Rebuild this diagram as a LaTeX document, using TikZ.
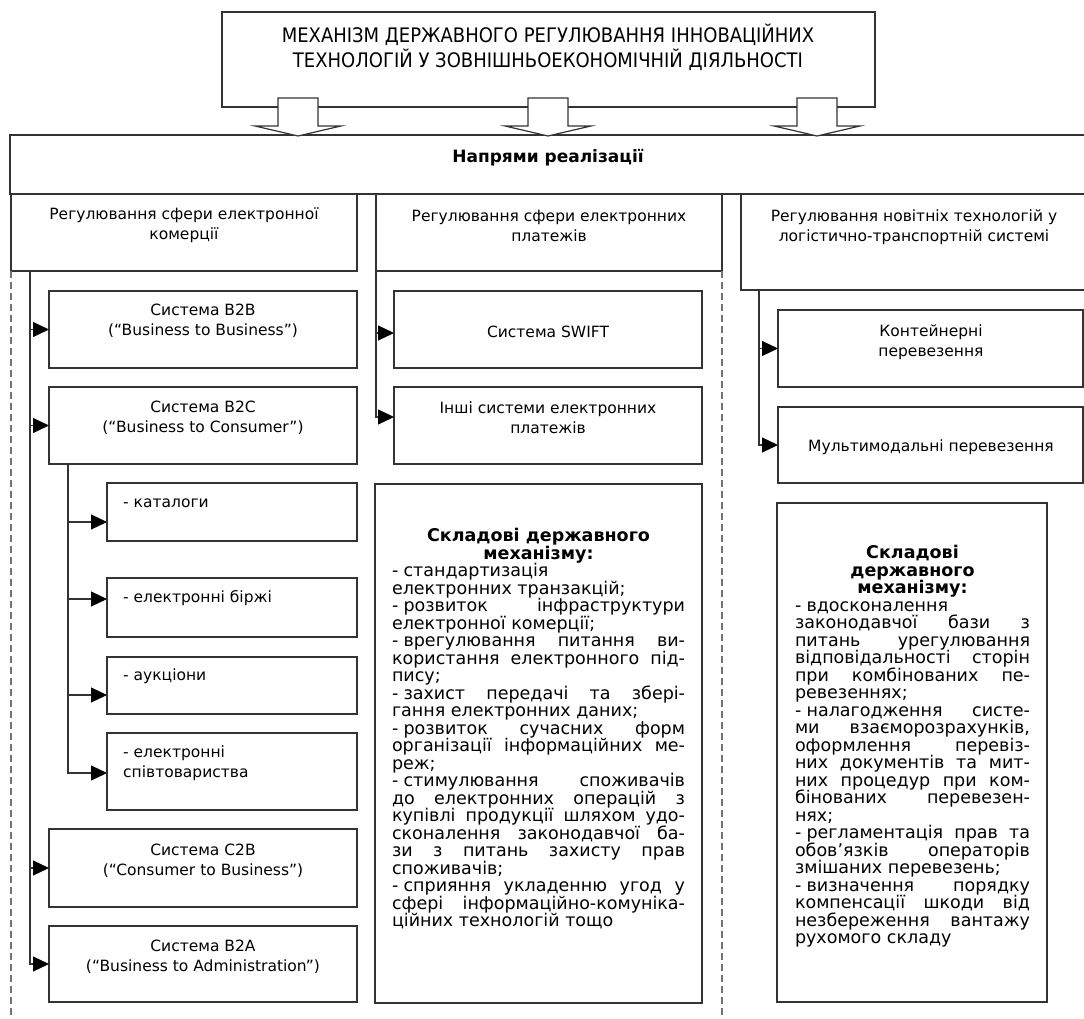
\documentclass[tikz,border=0pt]{standalone}
\usepackage{fontspec}
\setmainfont{DejaVu Sans}
\newfontfamily\titlefont[FakeStretch=0.9]{DejaVu Sans}
\usetikzlibrary{arrows.meta,calc}
\definecolor{linec}{gray}{0.2}
\definecolor{dashc}{gray}{0.45}
\newcommand\dd{-\kern0.3em\relax}
\newcommand\mj[1]{\makebox[293pt][s]{#1}}
\newcommand\ml[1]{\makebox[293pt][l]{#1}}
\newcommand\mc[1]{\makebox[293pt][c]{\bfseries #1}}
\newcommand\rj[1]{\makebox[235pt][s]{#1}}
\newcommand\rl[1]{\makebox[235pt][l]{#1}}
\newcommand\rc[1]{\makebox[235pt][c]{\bfseries #1}}
\newcommand\blockarr[2]{\draw[barrow] (#2-20,98) -- (#2+20,98) -- (#2+20,126) -- (#2+43,126) -- (#2,136) -- (#2-43,126) -- (#2-20,126) -- cycle;}
\begin{document}
\begin{tikzpicture}[x=1pt,y=-1pt,
  box/.style={draw=linec,line width=1.2pt,fill=white,inner sep=0pt,outer sep=0pt,anchor=north west},
  lbl/.style={font=\fontsize{15.5}{20}\selectfont,align=center,inner sep=0pt,text=black},
  sublbl/.style={font=\fontsize{15.5}{20}\selectfont,align=left,inner sep=0pt,anchor=west,text=black},
  conn/.style={draw=linec,line width=1.2pt,-{Triangle[length=16pt,width=15pt,color=black,fill=black]}},
  dline/.style={draw=dashc,line width=1.2pt,dash pattern=on 7pt off 4pt},
  barrow/.style={draw=linec,line width=1.2pt,fill=white,line join=miter},
  body/.style={font=\fontsize{17.5}{17.5}\selectfont,align=center,inner sep=0pt,anchor=north,text=black}]
\path[use as bounding box] (0,0) rectangle (1084,1019);
\clip (0,0) rectangle (1084,1019);
\fill[white] (0,0) rectangle (1084,1019);

% title
\node[box,minimum width=653pt,minimum height=95pt] (title) at (222,12) {};
\node[lbl,font=\titlefont\fontsize{20}{25}\selectfont] (titletxt) at (548,47) {МЕХАНІЗМ ДЕРЖАВНОГО РЕГУЛЮВАННЯ ІННОВАЦІЙНИХ\\ТЕХНОЛОГІЙ У ЗОВНІШНЬОЕКОНОМІЧНІЙ ДІЯЛЬНОСТІ};

% directions box
\node[box,minimum width=1080pt,minimum height=59pt] (napr) at (10,135) {};
\node[lbl,font=\bfseries\fontsize{17}{20}\selectfont] (naprtxt) at (548,158) {Напрями реалізації};

% block arrows
\blockarr{a1}{298}
\blockarr{a2}{548}
\blockarr{a3}{817}

% column heads
\node[box,minimum width=346pt,minimum height=77pt] (lcol) at (11,194) {};
\node[box,minimum width=346pt,minimum height=77pt] (mcol) at (376,194) {};
\node[box,minimum width=350pt,minimum height=96pt] (rcol) at (741,194) {};
\node[lbl] (lcoltxt) at (184,225.5) {Регулювання сфери електронної\\комерції};
\node[lbl] (mcoltxt) at (549,225.5) {Регулювання сфери електронних\\платежів};
\node[lbl] (rcoltxt) at (914,227) {Регулювання новітніх технологій у\\логістично-транспортній системі};

% dashed separators
\draw[dline] (lcol.south west) -- ++(0,760);
\draw[dline] (mcol.south east) -- ++(0,760);

% left column boxes
\node[box,minimum width=308pt,minimum height=77pt] (b2b) at (49,291) {};
\node[lbl] (b2btxt) at (203,321) {Система B2B\\(“Business to Business”)};
\node[box,minimum width=308pt,minimum height=77pt] (b2c) at (49,387) {};
\node[lbl] (b2ctxt) at (203,418) {Система B2C\\(“Business to Consumer”)};
\node[box,minimum width=250pt,minimum height=58pt] (kat) at (107,483) {};
\node[sublbl] (kattxt) at (123,503) {- каталоги};
\node[box,minimum width=250pt,minimum height=59pt] (birzh) at (107,578) {};
\node[sublbl] (birzhtxt) at (123,598) {- електронні біржі};
\node[box,minimum width=250pt,minimum height=57pt] (auk) at (107,657) {};
\node[sublbl] (auktxt) at (123,676) {- аукціони};
\node[box,minimum width=250pt,minimum height=77pt] (spiv) at (107,733) {};
\node[sublbl] (spivtxt) at (123,763) {- електронні\\співтовариства};
\node[box,minimum width=308pt,minimum height=78pt] (c2b) at (49,829) {};
\node[lbl] (c2btxt) at (203,860.5) {Система C2B\\(“Consumer to Business”)};
\node[box,minimum width=308pt,minimum height=76pt] (b2a) at (49,926) {};
\node[lbl] (b2atxt) at (203,956.5) {Система B2A\\(“Business to Administration”)};

% middle column boxes
\node[box,minimum width=308pt,minimum height=77pt] (swift) at (394,291) {};
\node[lbl] (swifttxt) at (548,332) {Система SWIFT};
\node[box,minimum width=308pt,minimum height=77pt] (other) at (394,387) {};
\node[lbl] (othertxt) at (548,418) {Інші системи електронних\\платежів};
\node[box,minimum width=327pt,minimum height=519pt] (mbox) at (375,484) {};

% right column boxes
\node[box,minimum width=305pt,minimum height=77pt] (kont) at (778,310) {};
\node[lbl] (konttxt) at (931,342) {Контейнерні\\перевезення};
\node[box,minimum width=305pt,minimum height=76pt] (multi) at (778,407) {};
\node[lbl] (multitxt) at (931,447) {Мультимодальні перевезення};
\node[box,minimum width=270pt,minimum height=499pt] (rbox) at (777,503) {};

% connectors
\coordinate (lbus) at ($(lcol.south west)+(19,0)$);
\draw[conn] (lbus) |- (b2b.west);
\draw[conn] (lbus) |- (b2c.west);
\draw[conn] (lbus) |- (c2b.west);
\draw[conn] (lbus) |- (b2a.west);
\coordinate (sbus) at ($(b2c.south west)+(19,0)$);
\draw[conn] (sbus) |- ($(kat.west)+(0,10)$);
\draw[conn] (sbus) |- ($(birzh.west)+(0,-8.5)$);
\draw[conn] (sbus) |- ($(auk.west)+(0,9.5)$);
\draw[conn] (sbus) |- ($(spiv.west)+(0,1.5)$);
\coordinate (mbus) at (mcol.south west);
\draw[conn] (mbus) |- ($(swift.west)+(0,3.5)$);
\draw[conn] (mbus) |- ($(other.west)+(0,-8.5)$);
\coordinate (rbus) at ($(rcol.south west)+(18,0)$);
\draw[conn] (rbus) |- (kont.west);
\draw[conn] (rbus) |- (multi.west);

% middle text
\node[body] (mtxt) at (538.5,528) {%
\mc{Складові державного}\\
\mc{механізму:}\\
\ml{\dd стандартизація}\\
\ml{електронних транзакцій;}\\
\mj{\dd розвиток інфраструктури}\\
\ml{електронної комерції;}\\
\mj{\dd врегулювання питання ви-}\\
\mj{користання електронного під-}\\
\ml{пису;}\\
\mj{\dd захист передачі та збері-}\\
\ml{гання електронних даних;}\\
\mj{\dd розвиток сучасних форм}\\
\mj{організації інформаційних ме-}\\
\ml{реж;}\\
\mj{\dd стимулювання споживачів}\\
\mj{до електронних операцій з}\\
\mj{купівлі продукції шляхом удо-}\\
\mj{сконалення законодавчої ба-}\\
\mj{зи з питань захисту прав}\\
\ml{споживачів;}\\
\mj{\dd сприяння укладенню угод у}\\
\mj{сфері інформаційно-комуніка-}\\
\ml{ційних технологій тощо}};

% right text
\node[body] (rtxt) at (912.5,545) {%
\rc{Складові}\\
\rc{державного}\\
\rc{механізму:}\\
\rl{\dd вдосконалення}\\
\rj{законодавчої бази з}\\
\rj{питань урегулювання}\\
\rj{відповідальності сторін}\\
\rj{при комбінованих пе-}\\
\rl{ревезеннях;}\\
\rj{\dd налагодження систе-}\\
\rj{ми взаєморозрахунків,}\\
\rj{оформлення перевіз-}\\
\rj{них документів та мит-}\\
\rj{них процедур при ком-}\\
\rj{бінованих перевезен-}\\
\rl{нях;}\\
\rj{\dd регламентація прав та}\\
\rj{обов’язків операторів}\\
\rl{змішаних перевезень;}\\
\rj{\dd визначення порядку}\\
\rj{компенсації шкоди від}\\
\rj{незбереження вантажу}\\
\rl{рухомого складу}};
\end{tikzpicture}
\end{document}
